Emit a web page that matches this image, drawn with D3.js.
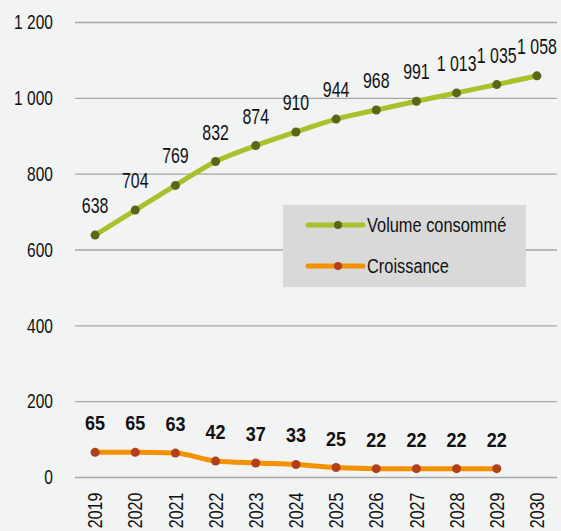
<!DOCTYPE html>
<html>
<head>
<meta charset="utf-8">
<script src="https://cdn.jsdelivr.net/npm/d3@7"></script>
<style>
  body { margin: 0; background: #f2f3f3; }
  svg { display: block; font-family: "Liberation Sans", Arial, sans-serif; }
</style>
</head>
<body>
<script>
const years = ["2019", "2020", "2021", "2022", "2023", "2024", "2025", "2026", "2027", "2028", "2029", "2030"];
const volume = [638, 704, 769, 832, 874, 910, 944, 968, 991, 1013, 1035, 1058];
const croissance = [65, 65, 63, 42, 37, 33, 25, 22, 22, 22, 22];
const yTicks = [0, 200, 400, 600, 800, 1000, 1200];

const width = 561,
  height = 531,
  marginTop = 22,
  marginRight = 4,
  marginBottom = 54,
  marginLeft = 75;

const fr = d3.formatLocale({ decimal: ",", thousands: " ", grouping: [3], currency: ["", " €"] });
const fmt = fr.format(",d");

// squeeze text horizontally to mimic a condensed face
function condense(sel, k) {
  sel.each(function () {
    const t = d3.select(this);
    const tx = +t.attr("x") || 0,
      ty = +t.attr("y") || 0;
    const base = t.attr("transform") || "";
    t.attr("x", null).attr("y", null)
      .attr("transform", `translate(${tx},${ty}) ${base} scale(${k},1)`);
  });
}

const svg = d3.select("body").append("svg")
  .attr("width", width)
  .attr("height", height);

const x = d3.scaleBand()
  .domain(years)
  .range([marginLeft, width - marginRight]);
const y = d3.scaleLinear()
  .domain([0, 1200])
  .range([height - marginBottom, marginTop]);
const cx = (d) => x(d) + x.bandwidth() / 2;

// grid + y axis
const yAxis = svg.append("g")
  .attr("transform", `translate(${marginLeft},0)`)
  .call(d3.axisLeft(y).tickValues(yTicks).tickFormat(fmt)
    .tickSize(-(width - marginRight - marginLeft)).tickPadding(22));
yAxis.select(".domain").remove();
yAxis.selectAll("line").attr("stroke", "#a6a6a6").attr("stroke-width", 1.3);
yAxis.selectAll("text").attr("font-size", 21).attr("fill", "#111");

// x axis
const xAxis = svg.append("g")
  .attr("transform", `translate(0,${height - marginBottom})`)
  .call(d3.axisBottom(x).tickSize(0).tickPadding(0));
xAxis.select(".domain").remove();
xAxis.selectAll("text")
  .attr("font-size", 20.5)
  .attr("fill", "#111")
  .attr("text-anchor", "end")
  .attr("dx", "-20")
  .attr("dy", "0.35em")
  .attr("x", 0)
  .attr("y", 0)
  .attr("transform", "rotate(-90)");
svg.selectAll("g").attr("font-family", null);
condense(yAxis.selectAll("text"), 0.74);
condense(xAxis.selectAll("text"), 0.78);

const line = d3.line()
  .x((d, i) => cx(years[i]))
  .y((d) => y(d))
  .curve(d3.curveMonotoneX);

// Volume consommé
svg.append("path")
  .attr("d", line(volume))
  .attr("fill", "none")
  .attr("stroke", "#a9c12b")
  .attr("stroke-width", 5)
  .attr("stroke-linecap", "round");
svg.append("g").selectAll("circle").data(volume).join("circle")
  .attr("cx", (d, i) => cx(years[i]))
  .attr("cy", (d) => y(d))
  .attr("r", 4.5)
  .attr("fill", "#5b6618");
const volLabels = svg.append("g").selectAll("text").data(volume).join("text")
  .attr("x", (d, i) => cx(years[i]))
  .attr("y", (d) => y(d) - 22)
  .attr("text-anchor", "middle")
  .attr("font-size", 21.5)
  .attr("fill", "#111")
  .text(fmt);
condense(volLabels, 0.74);

// Croissance
svg.append("path")
  .attr("d", line(croissance))
  .attr("fill", "none")
  .attr("stroke", "#f39200")
  .attr("stroke-width", 5)
  .attr("stroke-linecap", "round");
svg.append("g").selectAll("circle").data(croissance).join("circle")
  .attr("cx", (d, i) => cx(years[i]))
  .attr("cy", (d) => y(d))
  .attr("r", 4.5)
  .attr("fill", "#b23f1c");
const crLabels = svg.append("g").selectAll("text").data(croissance).join("text")
  .attr("x", (d, i) => cx(years[i]))
  .attr("y", (d) => y(d) - 22)
  .attr("text-anchor", "middle")
  .attr("font-size", 20)
  .attr("font-weight", "bold")
  .attr("fill", "#111")
  .text(fmt);
condense(crLabels, 0.9);

// legend
const legend = svg.append("g").attr("transform", "translate(283,205)");
legend.append("rect")
  .attr("width", 243)
  .attr("height", 82)
  .attr("fill", "#d9d9d9");
const items = [
  { name: "Volume consommé", stroke: "#a9c12b", dot: "#5b6618", ly: 20 },
  { name: "Croissance", stroke: "#f39200", dot: "#b23f1c", ly: 61 },
];
items.forEach((it) => {
  legend.append("line")
    .attr("x1", 25).attr("x2", 80)
    .attr("y1", it.ly).attr("y2", it.ly)
    .attr("stroke", it.stroke)
    .attr("stroke-width", 5)
    .attr("stroke-linecap", "round");
  legend.append("circle")
    .attr("cx", 55).attr("cy", it.ly).attr("r", 4)
    .attr("fill", it.dot);
  const lt = legend.append("text")
    .attr("x", 84).attr("y", it.ly)
    .attr("dy", "0.35em")
    .attr("font-size", 21)
    .attr("fill", "#111")
    .text(it.name);
  condense(lt, 0.78);
});
</script>
</body>
</html>
